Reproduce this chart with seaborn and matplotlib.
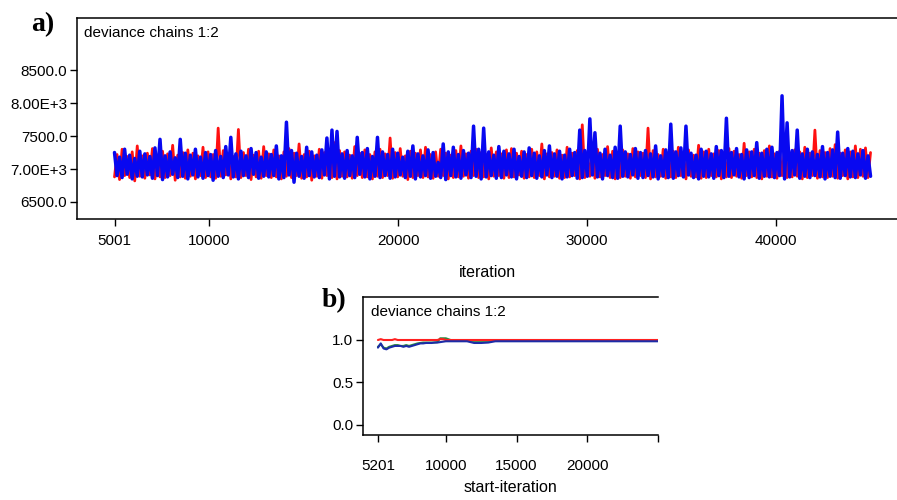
import numpy as np
import seaborn as sns
import matplotlib.pyplot as plt

# ---- panel a: deviance trace, chains 1 and 2 (per-bin highs / lows)
ITER_START, ITER_END = 5001, 45000

blue_high = [
    7250, 7180, 7300, 7210, 7160, 7270, 7230, 7190, 7320, 7450, 7200, 7260, 7170, 7450, 7240,
    7210, 7300, 7180, 7250, 7220, 7280, 7190, 7340, 7480, 7230, 7270, 7200, 7310, 7250, 7180,
    7260, 7220, 7350, 7200, 7710, 7280, 7240, 7190, 7330, 7260, 7210, 7290, 7470, 7590, 7570,
    7230, 7280, 7200, 7480, 7250, 7310, 7190, 7480, 7260, 7220, 7300, 7240, 7180, 7270, 7350,
    7230, 7200, 7290, 7250, 7100, 7380, 7260, 7330, 7220, 7280, 7240, 7650, 7300, 7620, 7260,
    7210, 7340, 7270, 7230, 7300, 7190, 7260, 7320, 7240, 7200, 7280, 7350, 7230, 7270, 7210,
    7300, 7250, 7590, 7280, 7760, 7550, 7240, 7300, 7210, 7330, 7650, 7260, 7220, 7310, 7250,
    7280, 7230, 7350, 7200, 7290, 7680, 7260, 7320, 7650, 7240, 7210, 7300, 7270, 7230, 7340,
    7280, 7770, 7250, 7310, 7220, 7290, 7260, 7400, 7240, 7300, 7330, 7250, 8110, 7700, 7280,
    7590, 7230, 7300, 7260, 7220, 7340, 7250, 7290, 7560, 7240, 7310, 7270, 7230, 7280, 7200,
]
blue_low = [
    6900, 6870, 6920, 6850, 6890, 6880, 6910, 6860, 6900, 6840,
    6880, 6920, 6870, 6890, 6850, 6910, 6880, 6860, 6900, 6830,
    6890, 6870, 6910, 6880, 6850, 6900, 6870, 6920, 6860, 6890,
    6880, 6900, 6850, 6870, 6910, 6800, 6890, 6860, 6900, 6880,
    6870, 6910, 6850, 6890, 6880, 6860, 6900, 6870, 6920, 6880,
    6850, 6890, 6870, 6900, 6860, 6880, 6910, 6870, 6890, 6850,
    6880, 6900, 6860, 6890, 6870, 6840, 6900, 6880, 6860, 6910,
    6870, 6890, 6850, 6880, 6900, 6860, 6870, 6910, 6880, 6850,
    6890, 6870, 6900, 6860, 6880, 6910, 6870, 6890, 6850, 6880,
    6900, 6860, 6870, 6890, 6910, 6880, 6850, 6900, 6870, 6860,
    6890, 6880, 6910, 6860, 6870, 6900, 6880, 6850, 6890, 6870,
    6860, 6900, 6880, 6910, 6870, 6850, 6890, 6880, 6860, 6900,
    6870, 6890, 6910, 6880, 6850, 6870, 6900, 6860, 6890, 6880,
    6870, 6900, 6850, 6880, 6910, 6860, 6890, 6870, 6900, 6880,
    6850, 6890, 6870, 6860, 6900, 6880, 6870, 6910, 6860, 6890,
]
red_high = [
    7220, 7300, 7190, 7260, 7350, 7200, 7240, 7310, 7180, 7270, 7230, 7360, 7210, 7250, 7290,
    7240, 7200, 7330, 7260, 7220, 7620, 7280, 7230, 7190, 7600, 7250, 7300, 7210, 7270, 7340,
    7230, 7290, 7200, 7260, 7310, 7240, 7380, 7220, 7270, 7200, 7300, 7250, 7230, 7400, 7280,
    7260, 7210, 7340, 7240, 7290, 7220, 7260, 7300, 7230, 7470, 7250, 7310, 7200, 7270, 7240,
    7290, 7330, 7220, 7260, 7300, 7240, 7210, 7280, 7350, 7230, 7270, 7300, 7250, 7220, 7320,
    7260, 7230, 7290, 7310, 7240, 7270, 7220, 7300, 7260, 7380, 7230, 7250, 7290, 7210, 7330,
    7240, 7280, 7670, 7230, 7260, 7300, 7220, 7340, 7270, 7250, 7290, 7230, 7310, 7260, 7240,
    7620, 7280, 7220, 7300, 7250, 7270, 7330, 7240, 7290, 7210, 7360, 7260, 7300, 7230, 7280,
    7250, 7310, 7270, 7220, 7390, 7260, 7300, 7240, 7280, 7350, 7230, 7270, 7310, 7250, 7290,
    7260, 7330, 7240, 7590, 7280, 7250, 7310, 7370, 7240, 7290, 7260, 7350, 7300, 7320, 7250,
]
red_low = [
    6880, 6840, 6900, 6870, 6820, 6890, 6860, 6910, 6850, 6880,
    6870, 6900, 6830, 6880, 6860, 6890, 6850, 6900, 6870, 6880,
    6860, 6890, 6910, 6850, 6880, 6870, 6900, 6840, 6880, 6860,
    6900, 6870, 6880, 6850, 6890, 6870, 6900, 6860, 6880, 6830,
    6890, 6860, 6900, 6870, 6850, 6890, 6880, 6860, 6900, 6870,
    6880, 6850, 6890, 6870, 6900, 6860, 6880, 6890, 6840, 6870,
    6900, 6870, 6880, 6860, 6890, 6900, 6850, 6870, 6880, 6890,
    6860, 6900, 6870, 6880, 6850, 6890, 6900, 6860, 6870, 6880,
    6910, 6860, 6880, 6870, 6900, 6850, 6880, 6890, 6860, 6870,
    6880, 6900, 6850, 6870, 6890, 6860, 6880, 6900, 6870, 6850,
    6870, 6890, 6860, 6880, 6900, 6870, 6850, 6880, 6890, 6860,
    6880, 6870, 6900, 6850, 6890, 6880, 6860, 6870, 6900, 6880,
    6850, 6880, 6870, 6890, 6860, 6900, 6880, 6870, 6850, 6890,
    6880, 6860, 6900, 6870, 6880, 6890, 6850, 6870, 6900, 6860,
    6880, 6870, 6890, 6860, 6900, 6850, 6880, 6870, 6890, 6870,
]
trace_yticks = [6500, 7000, 7500, 8000, 8500]
trace_ylabels = ["6500.0", "7.00E+3", "7500.0", "8.00E+3", "8500.0"]
trace_xticks = [5001, 10000, 20000, 30000, 40000]

# ---- panel b: Brooks-Gelman-Rubin diagnostic
bgr_iter = [5201, 5400, 5600, 5800, 6000, 6200, 6400, 6600, 6800, 7000, 7200, 7400, 7600,
            7800, 8000, 8200, 8400, 8600, 8800, 9000, 9200, 9400, 9600, 9800, 10000, 10500,
            11000, 11500, 12000, 12500, 13000, 13500, 14000, 16000, 18000, 20000, 22000,
            24000, 25000]
bgr_ratio = [1.00, 1.01, 1.00, 1.00, 1.00, 1.00, 1.01, 1.00, 1.00, 1.00, 1.00, 1.00, 1.00,
             1.00, 1.00, 1.00, 1.00, 1.00, 1.00, 1.00, 1.00, 1.00, 1.01, 1.01, 1.00, 1.00,
             1.00, 1.00, 1.00, 1.00, 1.00, 1.00, 1.00, 1.00, 1.00, 1.00, 1.00,
             1.00, 1.00]
bgr_pooled = [0.92, 0.95, 0.91, 0.90, 0.92, 0.93, 0.94, 0.94, 0.93, 0.93, 0.94, 0.93, 0.94,
              0.95, 0.96, 0.965, 0.97, 0.97, 0.97, 0.97, 0.97, 0.975, 1.02, 1.02, 1.02, 0.99,
              0.99, 0.99, 0.99, 0.99, 0.99, 0.99, 0.99, 0.99, 0.99, 0.99, 0.99,
              0.99, 0.99]
bgr_within = [0.91, 0.96, 0.90, 0.89, 0.91, 0.92, 0.93, 0.93, 0.93, 0.92, 0.93, 0.92, 0.93,
              0.94, 0.95, 0.96, 0.96, 0.965, 0.965, 0.965, 0.97, 0.97, 0.975, 0.98, 0.985, 0.985,
              0.985, 0.985, 0.965, 0.965, 0.97, 0.985, 0.985, 0.985, 0.985, 0.985, 0.985,
              0.985, 0.985]


sns.set_theme(style="ticks")
plt.rcParams["font.family"] = ["Liberation Sans", "DejaVu Sans"]
plt.rcParams["axes.linewidth"] = 1.1
plt.rcParams["axes.edgecolor"] = "black"
plt.rcParams["text.color"] = "black"
plt.rcParams["axes.labelcolor"] = "black"

fig = plt.figure(figsize=(8.97, 5.0), dpi=100)


def style_axes(ax, xpad):
    ax.spines["right"].set_visible(False)
    ax.tick_params(axis="both", direction="out", length=5, width=1.0,
                   labelsize=11, pad=2, colors="black")
    ax.tick_params(axis="x", pad=xpad)
    ax.set_facecolor("white")


# panel a
ax1 = fig.add_axes([77 / 897, 1 - 219 / 500, 820 / 897, 201 / 500])
n_bins = len(blue_high)
iters = np.linspace(ITER_START, ITER_END, 2 * n_bins)
red_y = np.column_stack([red_low, red_high]).ravel()
blue_y = np.column_stack([blue_high, blue_low]).ravel()
sns.lineplot(x=iters, y=red_y, color="#ff1010", lw=2.0, ax=ax1)
sns.lineplot(x=iters, y=blue_y, color="#0808f0", lw=2.5, ax=ax1)
ax1.set_xlim(3017, 46400)
ax1.set_ylim(6242, 9290)
ax1.set_xticks(trace_xticks)
ax1.set_xticklabels([str(t) for t in trace_xticks])
ax1.set_yticks(trace_yticks)
ax1.set_yticklabels(trace_ylabels)
ax1.set_xlabel("iteration", fontsize=11.5, labelpad=12)
ax1.text(0.0085, 0.962, "deviance chains 1:2", transform=ax1.transAxes,
         ha="left", va="top", fontsize=11)
style_axes(ax1, xpad=6)

# panel b
ax2 = fig.add_axes([363 / 897, 1 - 435 / 500, 295 / 897, 138 / 500])
sns.lineplot(x=bgr_iter, y=bgr_pooled, color="#2e8b3e", lw=1.5, ax=ax2)
sns.lineplot(x=bgr_iter, y=bgr_ratio, color="#ff2020", lw=1.5, ax=ax2)
sns.lineplot(x=bgr_iter, y=bgr_within, color="#1c2ca8", lw=1.5, ax=ax2)
ax2.set_xlim(4145, 25000)
ax2.set_ylim(-0.118, 1.506)
ax2.set_xticks([5201, 10000, 15000, 20000, 25000])
ax2.set_xticklabels(["5201", "10000", "15000", "20000", ""])
ax2.set_yticks([0.0, 0.5, 1.0])
ax2.set_yticklabels(["0.0", "0.5", "1.0"])
ax2.set_xlabel("start-iteration", fontsize=11.5, labelpad=5)
ax2.text(0.027, 0.942, "deviance chains 1:2", transform=ax2.transAxes,
         ha="left", va="top", fontsize=11)
style_axes(ax2, xpad=12)

# panel letters
fig.text(31 / 897, 1 - 31 / 500, "a)", family="Liberation Serif", weight="bold",
         fontsize=20, va="baseline")
fig.text(322 / 897, 1 - 307 / 500, "b)", family="Liberation Serif", weight="bold",
         fontsize=20, va="baseline")

fig.savefig("out.png", dpi=100, facecolor="white")
